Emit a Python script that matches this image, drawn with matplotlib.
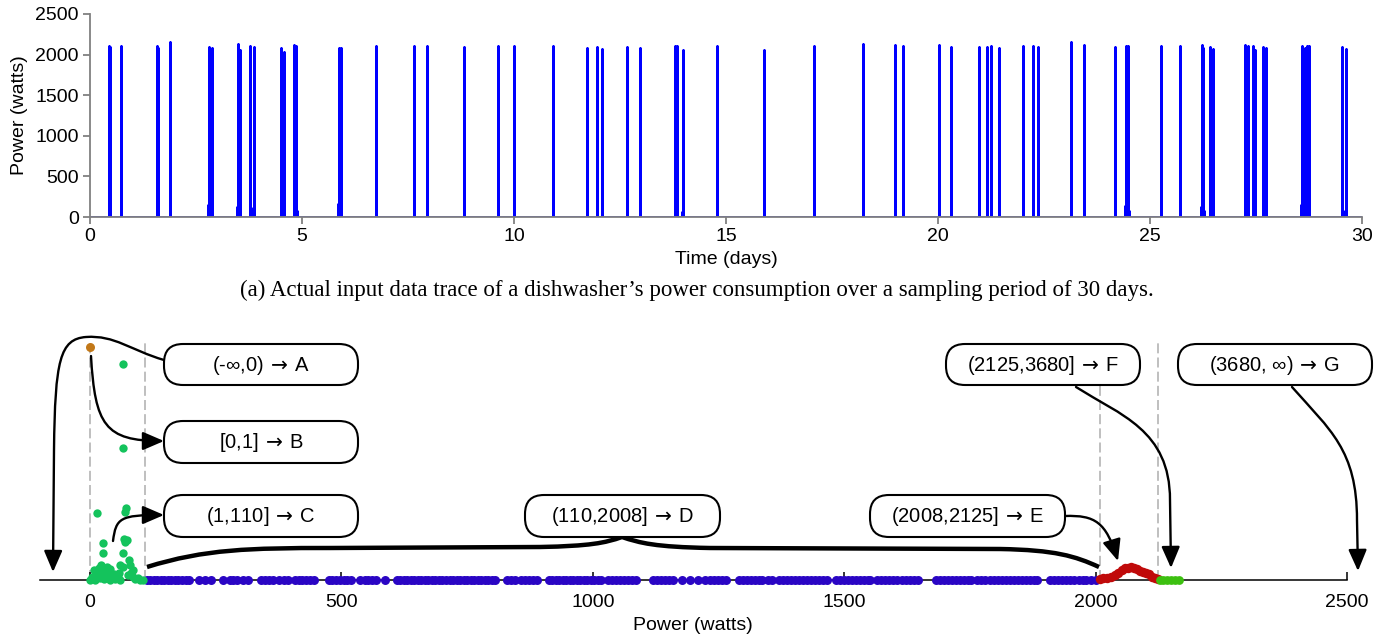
import numpy as np
import matplotlib
matplotlib.use("Agg")
import matplotlib.pyplot as plt
from matplotlib.path import Path
from matplotlib.patches import FancyArrowPatch, FancyBboxPatch, PathPatch

plt.rcParams["font.family"] = ["Liberation Sans", "DejaVu Sans"]
plt.rcParams["mathtext.fontset"] = "dejavusans"

W, H = 1393, 637  # figure size in pixels (dpi 100)

# ---------------- (a) dishwasher trace ----------------
spike_days = [0.45, 0.48, 0.72, 1.57, 1.61, 1.89, 2.80, 2.87, 3.48, 3.53, 3.78, 3.86,
              4.50, 4.57, 4.81, 4.87, 5.87, 5.92, 6.75, 7.63, 7.95, 8.82, 9.63, 10.01,
              10.91, 11.71, 11.95, 12.07, 12.66, 12.96, 13.80, 13.85, 13.98, 14.78, 15.90,
              17.08, 18.22, 18.99, 19.18, 20.03, 20.30, 20.97, 21.15, 21.24, 21.45, 22.00,
              22.25, 22.37, 23.13, 23.44, 24.17, 24.43, 24.49, 25.27, 25.70, 26.22, 26.26,
              26.42, 26.48, 27.24, 27.32, 27.42, 27.48, 27.67, 27.74, 28.58, 28.66, 28.70,
              28.75, 29.54, 29.62]
spike_watts = [2110, 2090, 2100, 2100, 2080, 2150, 2090, 2080, 2130, 2060, 2100, 2090,
               2080, 2030, 2120, 2100, 2080, 2080, 2100, 2110, 2100, 2090, 2110, 2110,
               2100, 2080, 2090, 2070, 2090, 2080, 2100, 2100, 2060, 2110, 2060,
               2100, 2130, 2120, 2110, 2120, 2090, 2090, 2090, 2110, 2080, 2110,
               2100, 2090, 2150, 2120, 2090, 2100, 2110, 2100, 2110, 2120, 2080,
               2090, 2070, 2120, 2100, 2100, 2060, 2090, 2080, 2100, 2080, 2110,
               2110, 2090, 2070]
blip_days = [2.79, 2.85, 3.47, 3.54, 3.79, 3.87, 4.51, 4.58, 4.80, 4.88, 5.86, 5.93,
             13.82, 13.97, 20.96, 24.42, 24.50, 26.21, 26.27, 26.41, 26.49, 27.23, 27.30,
             27.46, 27.71, 28.57, 28.65, 28.72, 29.53, 29.60]
blip_watts = [150, 80, 120, 100, 110, 80, 100, 70, 160, 80, 160, 70,
              70, 60, 180, 140, 80, 120, 70, 110, 60, 160, 80,
              90, 100, 150, 100, 80, 140, 80]
day_ticks = [0, 5, 10, 15, 20, 25, 30]
watt_ticks = [0, 500, 1000, 1500, 2000, 2500]

# ---------------- (b) value distribution ----------------
neg_watts = [0]
neg_freq = [1.0]
low_watts = [66, 66, 13, 72, 70, 25, 70, 73, 68, 25, 65, 78, 21, 17, 33, 40, 60, 66, 80, 86,
             7, 3, 0, 5, 10, 20, 27, 35, 40, 45, 50, 55, 60, 75, 85, 90, 95, 100, 105, 30,
             48, 28, 15, 58, 82]
low_freq = [0.926, 0.568, 0.286, 0.308, 0.29, 0.16, 0.165, 0.17, 0.178, 0.115, 0.115, 0.086,
            0.064, 0.052, 0.056, 0.047, 0.064, 0.056, 0.064, 0.043, 0.043, 0.013, 0.0, 0.005,
            0.0, 0.01, 0.005, 0.02, 0.0, 0.01, 0.005, 0.015, 0.0, 0.02, 0.015, 0.005, 0.01,
            0.0, 0.0, 0.03, 0.025, 0.04, 0.02, 0.03, 0.03]
mid_watts = [113, 120, 127, 134, 141, 148, 155, 162, 169, 176, 183, 190, 197, 217, 228, 240,
             264, 278, 285, 292, 304, 314, 341, 349, 357, 364, 376, 385, 393, 408, 415, 422,
             430, 437, 445, 475, 482, 490, 497, 505, 512, 520, 537, 546, 553, 561, 569, 587,
             610, 617, 624, 631, 638, 645, 652, 659, 666, 673, 680, 687, 694, 701, 708, 715,
             722, 729, 736, 743, 750, 757, 764, 771, 778, 785, 792, 799, 806, 830, 838, 846,
             858, 866, 874, 882, 890, 912, 919, 926, 933, 940, 947, 954, 961, 968, 975, 982,
             989, 996, 1003, 1010, 1017, 1030, 1038, 1046, 1054, 1062, 1070, 1078, 1086,
             1120, 1128, 1136, 1144, 1151, 1160, 1178, 1193, 1209, 1223, 1233, 1241, 1249,
             1257, 1265, 1290, 1298, 1306, 1314, 1322, 1330, 1336, 1348, 1356, 1370, 1378,
             1386, 1394, 1402, 1410, 1418, 1426, 1434, 1442, 1450, 1458, 1466, 1483, 1491,
             1499, 1507, 1515, 1523, 1531, 1539, 1547, 1552, 1566, 1574, 1582, 1590, 1598,
             1606, 1614, 1622, 1630, 1638, 1646, 1683, 1691, 1699, 1707, 1715, 1723, 1731,
             1739, 1747, 1752, 1765, 1773, 1781, 1789, 1797, 1805, 1813, 1821, 1829, 1837,
             1845, 1853, 1861, 1869, 1877, 1884, 1910, 1918, 1926, 1934, 1942, 1950, 1958,
             1966, 1974, 1980, 1991, 2000]
high_watts = [2008, 2015, 2022, 2030, 2038, 2045, 2052, 2058, 2064, 2070, 2076, 2082, 2088,
              2094, 2100, 2106, 2112, 2118, 2124]
high_freq = [0.005, 0.008, 0.01, 0.012, 0.02, 0.03, 0.042, 0.05, 0.053, 0.054, 0.052, 0.046,
             0.04, 0.035, 0.03, 0.024, 0.015, 0.008, 0.003]
top_watts = [2128, 2135, 2142, 2150, 2158, 2165]
bin_edges = [0, 110, 2008, 2125]

arrow = r"$\,\rightarrow\,$"
box_labels = ["(-\u221e,0)" + arrow + "A", "[0,1]" + arrow + "B", "(1,110]" + arrow + "C",
              "(110,2008]" + arrow + "D", "(2008,2125]" + arrow + "E",
              "(2125,3680]" + arrow + "F", "(3680, \u221e)" + arrow + "G"]

caption = "(a) Actual input data trace of a dishwasher\u2019s power consumption over a sampling period of 30 days."

fs = 14
fig = plt.figure(figsize=(W / 100, H / 100), dpi=100)

# ---- top panel ----
ax1 = fig.add_axes([90 / W, 1 - 217 / H, 1272 / W, 203 / H])
t = np.array(spike_days + blip_days)
p = np.array(spike_watts + blip_watts)
order = np.argsort(t)
t, p = t[order], p[order]
n = len(t)
tx = np.concatenate([[day_ticks[0]], np.repeat(t, 3), [day_ticks[-1]]])
py = np.concatenate([[0], np.column_stack([np.zeros(n), p, np.zeros(n)]).ravel(), [0]])
ax1.plot(tx, py, color="#0000ff", lw=1.8)
ax1.set_xlim(day_ticks[0], day_ticks[-1])
ax1.set_ylim(watt_ticks[0], watt_ticks[-1])
ax1.set_xticks(day_ticks)
ax1.set_yticks(watt_ticks)
for s in ["top", "right"]:
    ax1.spines[s].set_visible(False)
for s in ["left", "bottom"]:
    ax1.spines[s].set_color("#808080")
    ax1.spines[s].set_linewidth(1.3)
ax1.tick_params(direction="out", length=5, width=1.3, color="#808080", labelsize=fs, pad=3)
ax1.set_xlabel("Time (days)", fontsize=fs, labelpad=4)
ax1.set_ylabel("Power (watts)", fontsize=fs, labelpad=5)

fig.text(0.5, 1 - 290 / H, caption, ha="center", va="center",
         family=["Liberation Serif", "DejaVu Serif"], fontsize=16.5)

# ---- bottom panel ----
px_per_w = 0.5028
x_lo, x_hi = (20 - 90) / px_per_w, (1380 - 90) / px_per_w
ax2 = fig.add_axes([20 / W, 1 - 590 / H, 1360 / W, 260 / H])
ax2.set_xlim(x_lo, x_hi)
ax2.set_ylim(-10 / 233, 250 / 233)
ax2.vlines(bin_edges, 0, 1.017, colors="#b4b4b4", linestyles=(0, (6, 2.5)), lw=1.2, zorder=1)
ax2.scatter(mid_watts, np.zeros(len(mid_watts)), s=42, color="#2a05c4", lw=0, zorder=3, clip_on=False)
ax2.scatter(high_watts, high_freq, s=46, color="#c00a0a", lw=0, zorder=3, clip_on=False)
ax2.scatter(top_watts, np.zeros(len(top_watts)), s=40, color="#3cc010", lw=0, zorder=3, clip_on=False)
ax2.scatter(low_watts, low_freq, s=36, color="#14c35c", lw=0, zorder=3, clip_on=False)
ax2.scatter(neg_watts, neg_freq, s=42, color="#c27818", lw=0, zorder=3, clip_on=False)
for s in ["left", "right", "top"]:
    ax2.spines[s].set_visible(False)
ax2.spines["bottom"].set_position(("data", 0))
ax2.spines["bottom"].set_bounds(-100, watt_ticks[-1])
ax2.spines["bottom"].set_linewidth(1.1)
ax2.set_xticks(watt_ticks)
ax2.set_yticks([])
ax2.tick_params(axis="x", direction="in", length=6, width=1.1, labelsize=fs, pad=10)
ax2.set_xlabel("Power (watts)", fontsize=fs)
ax2.xaxis.set_label_coords((1200 - x_lo) / (x_hi - x_lo), -0.105)

# ---- overlay in pixel units for boxes and arrows ----
ov = fig.add_axes([0, 0, 1, 1])
ov.set_xlim(0, W)
ov.set_ylim(H, 0)
ov.axis("off")

boxes = [(164, 344, 194, 41), (164, 421, 194, 42), (164, 495, 194, 42),
         (525, 495, 195, 42), (870, 495, 195, 42), (946, 344, 194, 41),
         (1178, 344, 194, 41)]
for (bx, by, bw, bh), lab in zip(boxes, box_labels):
    ov.add_patch(FancyBboxPatch((bx, by), bw, bh, boxstyle="round,pad=0,rounding_size=19",
                                fc="white", ec="black", lw=1.5, zorder=4))
    ov.text(bx + bw / 2, by + bh / 2 + 1, lab, ha="center", va="center", fontsize=14.5, zorder=5)

C4, MV, LN = Path.CURVE4, Path.MOVETO, Path.LINETO
arrows = [
    ([(164, 360), (130, 350), (115, 335), (86, 337), (60, 339), (55, 360), (54, 450), (53, 572)],
     [MV, C4, C4, C4, C4, C4, C4, LN]),
    ([(91, 356), (95, 425), (105, 441), (164, 441)], [MV, C4, C4, C4]),
    ([(113, 541), (116, 518), (120, 515), (164, 515)], [MV, C4, C4, C4]),
    ([(1065, 516), (1095, 515), (1106, 522), (1118, 561)], [MV, C4, C4, C4]),
    ([(1076, 387), (1120, 415), (1170, 430), (1170, 500), (1171, 568)], [MV, C4, C4, C4, LN]),
    ([(1292, 387), (1330, 430), (1357, 450), (1357, 520), (1358, 571)], [MV, C4, C4, C4, LN]),
]
for verts, codes in arrows:
    ov.add_patch(FancyArrowPatch(path=Path(verts, codes),
                                 arrowstyle="-|>,head_length=0.65,head_width=0.28",
                                 mutation_scale=20, lw=1.7, color="black", zorder=3))

brace = Path([(147, 567), (205, 549), (250, 548), (330, 548), (540, 547),
              (590, 546), (605, 543), (622, 537), (640, 543), (655, 547), (710, 548),
              (1000, 549), (1055, 550), (1075, 556), (1099, 567)],
             [MV, C4, C4, C4, LN, C4, C4, C4, C4, C4, C4, LN, C4, C4, C4])
ov.add_patch(PathPatch(brace, fill=False, lw=3.2, color="black", zorder=3))

fig.savefig("out.png", dpi=100)
